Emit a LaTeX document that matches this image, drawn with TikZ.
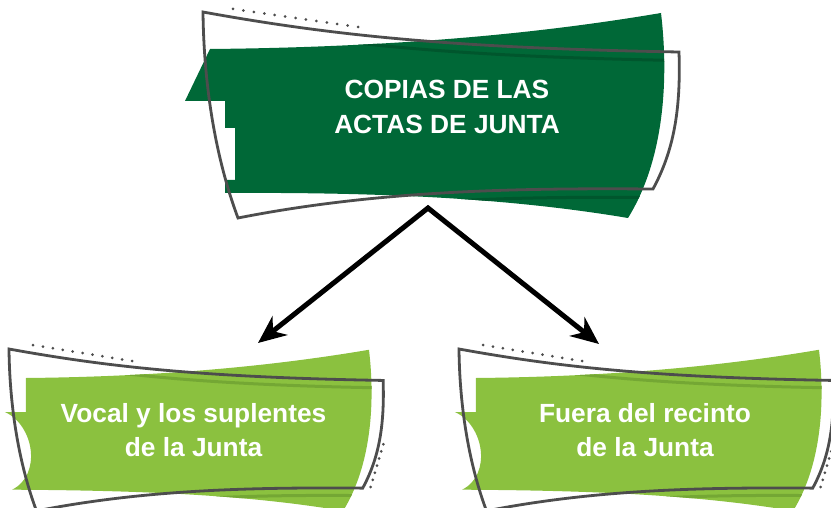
\documentclass[tikz,border=0pt]{standalone}
\usepackage{fontspec}
\setmainfont{Liberation Sans}
\usetikzlibrary{arrows.meta}
\definecolor{dkgreen}{RGB}{0,104,55}
\definecolor{dkstripe}{RGB}{0,86,45}
\definecolor{ltgreen}{RGB}{139,193,63}
\definecolor{ltstripe}{RGB}{116,167,52}
\definecolor{outl}{RGB}{77,77,77}
\def\outlinepath{(0,0) .. controls (127,23) and (247,36) .. (476,40) .. controls (478,100) and (470,140) .. (450,177) .. controls (317,176) and (177,178) .. (35,206) .. controls (17,158) and (1,88) .. cycle}
\def\topedge{(0,0) .. controls (127,23) and (247,36) .. (476,40)}
\def\botedge{(450,177) .. controls (317,176) and (177,178) .. (35,206)}
\def\greenright{.. controls (217,35) and (357,18) .. (458,1) .. controls (466,68) and (461,148) .. (425,206) .. controls (317,188) and (197,180) ..}
\def\topgreen{(7,37) \greenright (22,181) -- (22,168) -- (32,168) -- (32,116) -- (22,116) -- (22,89) -- (-18,89) -- cycle}
\def\botgreen{(21.6,36.9) \greenright (4,179) .. controls (42,160) and (32,97) .. (-5.1,80.2) -- (21.6,80.2) -- cycle}
\tikzset{
  bigtip/.tip={Stealth[length=28pt,width=24pt,inset=9pt]},
  outline/.style={draw=outl, line width=2.8pt, line join=miter},
  stripeline/.style={line width=3pt},
  dotc/.style={fill=outl},
  lbl/.style={text=white, font=\fontsize{26.3}{34.5}\selectfont\bfseries, align=center, inner sep=0pt},
  arrowline/.style={draw=black, line width=5pt, line join=miter, bigtip-bigtip}
}
\begin{document}
\begin{tikzpicture}[x=1pt,y=-1pt]
\clip (0,0) rectangle (831,508);
\fill[white] (0,0) rectangle (831,508);
% top shape
\begin{scope}[shift={(203,12)}]
  \fill[dkgreen] \topgreen;
  \begin{scope}
    \clip \topgreen;
    \draw[stripeline, draw=dkstripe, shift={(0,8.5)}] \topedge;
    \draw[stripeline, draw=dkstripe, shift={(0,8.5)}] \botedge;
  \end{scope}
  \draw[outline] \outlinepath;
\end{scope}
\foreach \i in {0,...,12} \fill[dotc] ({233+\i*125/12},{9+\i*18/12}) circle[radius=1.5pt];
% bottom shapes
\foreach \dx in {0,450} {
  \begin{scope}[shift={(9+\dx,349)}, scale=0.786]
    \fill[ltgreen] \botgreen;
    \begin{scope}
      \clip \botgreen;
      \draw[stripeline, draw=ltstripe, shift={(0,9.5)}] \topedge;
      \draw[stripeline, draw=ltstripe, shift={(0,9.5)}] \botedge;
    \end{scope}
    \draw[outline] \outlinepath;
  \end{scope}
  \foreach \i in {0,...,10} \fill[dotc] ({33+\dx+\i*99/10},{345+\i*16/10}) circle[radius=1.5pt];
  \foreach \i in {0,...,6} \fill[dotc] ({383.3+\dx-\i*12.6/6},{444.3+\i*42.7/6}) circle[radius=1.5pt];
}
% texts
\node[lbl, anchor=north] (copias) at (447,80) {COPIAS DE LAS\\ACTAS DE JUNTA};
\node[lbl, anchor=north] (vocal) at (193.5,402.8) {Vocal y los suplentes\\de la Junta};
\node[lbl, anchor=north] (fuera) at (645,402.8) {Fuera del recinto\\de la Junta};
% arrows
\coordinate (apex) at (428,208);
\coordinate (lt) at (258,343);
\coordinate (rt) at (599,344);
\draw[arrowline] (lt) -- (apex) -- (rt);
\end{tikzpicture}
\end{document}
